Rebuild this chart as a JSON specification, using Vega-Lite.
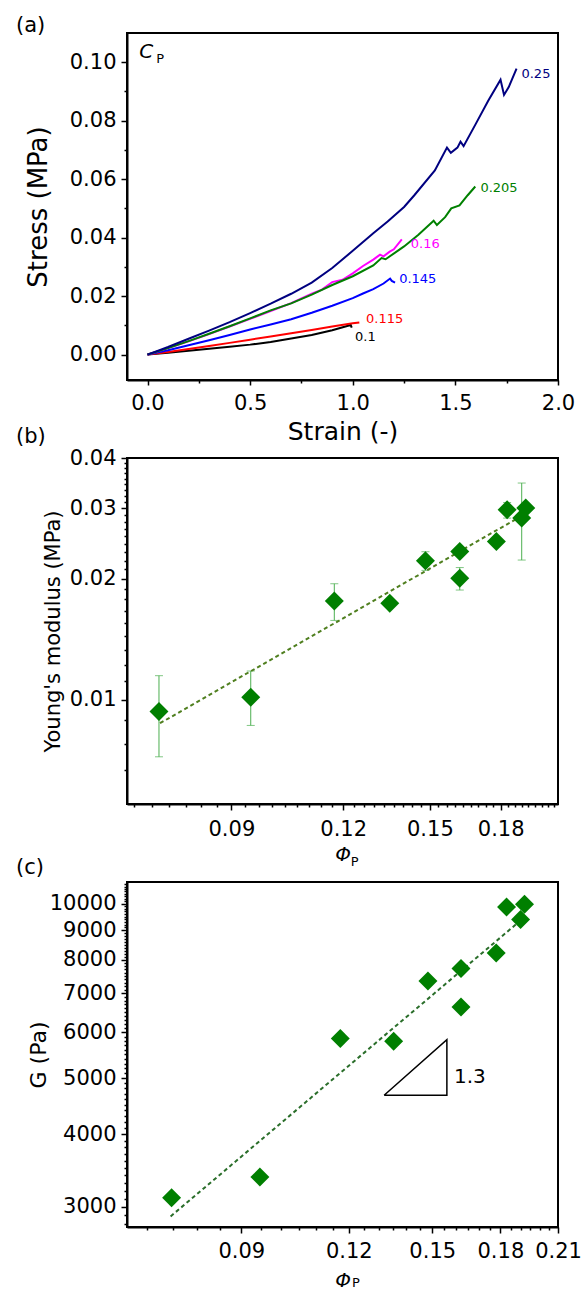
{
  "$schema": "https://vega.github.io/schema/vega-lite/v6.json",
  "padding": {"left": 15, "top": 14, "right": 0, "bottom": 0},
  "bounds": "flush",
  "spacing": 78,
  "config": {
    "font": "DejaVu Sans",
    "view": {"stroke": "black", "strokeWidth": 2},
    "axis": {"grid": false, "domainColor": "black", "domainWidth": 2, "tickColor": "black", "tickWidth": 1.5, "labelColor": "black", "titleColor": "black", "labelFontSize": 21, "labelFont": "DejaVu Sans", "titleFont": "DejaVu Sans", "titleFontWeight": "normal", "labelPadding": 5, "labelFlush": false, "labelOverlap": false},
    "title": {"font": "DejaVu Sans", "fontSize": 21, "fontWeight": "normal", "anchor": "start", "frame": "group", "baseline": "alphabetic", "color": "black"}
  },
  "datasets": {
    "curves": [
      {"cp": "0.1", "strain": 0, "stress": 0}, {"cp": "0.1", "strain": 0.1, "stress": 0.0006}, {"cp": "0.1", "strain": 0.2, "stress": 0.0013}, {"cp": "0.1", "strain": 0.3, "stress": 0.002}, {"cp": "0.1", "strain": 0.4, "stress": 0.0027}, {"cp": "0.1", "strain": 0.5, "stress": 0.0034}, {"cp": "0.1", "strain": 0.6, "stress": 0.0043}, {"cp": "0.1", "strain": 0.7, "stress": 0.0055}, {"cp": "0.1", "strain": 0.8, "stress": 0.0067}, {"cp": "0.1", "strain": 0.9, "stress": 0.0083}, {"cp": "0.1", "strain": 0.99, "stress": 0.0101}, {"cp": "0.1", "strain": 0.995, "stress": 0.0092},
      {"cp": "0.115", "strain": 0, "stress": 0}, {"cp": "0.115", "strain": 0.1, "stress": 0.0009}, {"cp": "0.115", "strain": 0.2, "stress": 0.0019}, {"cp": "0.115", "strain": 0.3, "stress": 0.0029}, {"cp": "0.115", "strain": 0.4, "stress": 0.004}, {"cp": "0.115", "strain": 0.5, "stress": 0.0051}, {"cp": "0.115", "strain": 0.6, "stress": 0.0062}, {"cp": "0.115", "strain": 0.7, "stress": 0.0073}, {"cp": "0.115", "strain": 0.8, "stress": 0.0084}, {"cp": "0.115", "strain": 0.9, "stress": 0.0096}, {"cp": "0.115", "strain": 1.0, "stress": 0.0107}, {"cp": "0.115", "strain": 1.032, "stress": 0.011},
      {"cp": "0.145", "strain": 0, "stress": 0}, {"cp": "0.145", "strain": 0.1, "stress": 0.0015}, {"cp": "0.145", "strain": 0.2, "stress": 0.0032}, {"cp": "0.145", "strain": 0.3, "stress": 0.0049}, {"cp": "0.145", "strain": 0.4, "stress": 0.0067}, {"cp": "0.145", "strain": 0.5, "stress": 0.0086}, {"cp": "0.145", "strain": 0.6, "stress": 0.0103}, {"cp": "0.145", "strain": 0.7, "stress": 0.0121}, {"cp": "0.145", "strain": 0.8, "stress": 0.0143}, {"cp": "0.145", "strain": 0.9, "stress": 0.0167}, {"cp": "0.145", "strain": 1.0, "stress": 0.0193}, {"cp": "0.145", "strain": 1.05, "stress": 0.0209}, {"cp": "0.145", "strain": 1.1, "stress": 0.0224}, {"cp": "0.145", "strain": 1.15, "stress": 0.0243}, {"cp": "0.145", "strain": 1.182, "stress": 0.026}, {"cp": "0.145", "strain": 1.19, "stress": 0.0252}, {"cp": "0.145", "strain": 1.206, "stress": 0.0246},
      {"cp": "0.16", "strain": 0, "stress": 0}, {"cp": "0.16", "strain": 0.1, "stress": 0.0022}, {"cp": "0.16", "strain": 0.2, "stress": 0.0045}, {"cp": "0.16", "strain": 0.3, "stress": 0.007}, {"cp": "0.16", "strain": 0.4, "stress": 0.0096}, {"cp": "0.16", "strain": 0.5, "stress": 0.0122}, {"cp": "0.16", "strain": 0.6, "stress": 0.0149}, {"cp": "0.16", "strain": 0.7, "stress": 0.0176}, {"cp": "0.16", "strain": 0.8, "stress": 0.0208}, {"cp": "0.16", "strain": 0.85, "stress": 0.0222}, {"cp": "0.16", "strain": 0.9, "stress": 0.0248}, {"cp": "0.16", "strain": 0.95, "stress": 0.0256}, {"cp": "0.16", "strain": 1.0, "stress": 0.0278}, {"cp": "0.16", "strain": 1.05, "stress": 0.0303}, {"cp": "0.16", "strain": 1.1, "stress": 0.0325}, {"cp": "0.16", "strain": 1.133, "stress": 0.0342}, {"cp": "0.16", "strain": 1.15, "stress": 0.0336}, {"cp": "0.16", "strain": 1.18, "stress": 0.0352}, {"cp": "0.16", "strain": 1.2, "stress": 0.036}, {"cp": "0.16", "strain": 1.239, "stress": 0.0394},
      {"cp": "0.205", "strain": 0, "stress": 0}, {"cp": "0.205", "strain": 0.1, "stress": 0.0022}, {"cp": "0.205", "strain": 0.2, "stress": 0.0046}, {"cp": "0.205", "strain": 0.3, "stress": 0.0071}, {"cp": "0.205", "strain": 0.4, "stress": 0.0097}, {"cp": "0.205", "strain": 0.5, "stress": 0.0124}, {"cp": "0.205", "strain": 0.6, "stress": 0.0151}, {"cp": "0.205", "strain": 0.7, "stress": 0.0175}, {"cp": "0.205", "strain": 0.8, "stress": 0.0205}, {"cp": "0.205", "strain": 0.9, "stress": 0.0238}, {"cp": "0.205", "strain": 1.0, "stress": 0.0268}, {"cp": "0.205", "strain": 1.1, "stress": 0.0305}, {"cp": "0.205", "strain": 1.14, "stress": 0.033}, {"cp": "0.205", "strain": 1.16, "stress": 0.0326}, {"cp": "0.205", "strain": 1.25, "stress": 0.037}, {"cp": "0.205", "strain": 1.32, "stress": 0.041}, {"cp": "0.205", "strain": 1.394, "stress": 0.0458}, {"cp": "0.205", "strain": 1.41, "stress": 0.0443}, {"cp": "0.205", "strain": 1.45, "stress": 0.047}, {"cp": "0.205", "strain": 1.48, "stress": 0.05}, {"cp": "0.205", "strain": 1.52, "stress": 0.051}, {"cp": "0.205", "strain": 1.56, "stress": 0.0545}, {"cp": "0.205", "strain": 1.597, "stress": 0.0575},
      {"cp": "0.25", "strain": 0, "stress": 0}, {"cp": "0.25", "strain": 0.1, "stress": 0.0026}, {"cp": "0.25", "strain": 0.2, "stress": 0.0054}, {"cp": "0.25", "strain": 0.3, "stress": 0.0082}, {"cp": "0.25", "strain": 0.4, "stress": 0.0111}, {"cp": "0.25", "strain": 0.5, "stress": 0.0142}, {"cp": "0.25", "strain": 0.6, "stress": 0.0174}, {"cp": "0.25", "strain": 0.7, "stress": 0.0208}, {"cp": "0.25", "strain": 0.8, "stress": 0.0246}, {"cp": "0.25", "strain": 0.9, "stress": 0.0296}, {"cp": "0.25", "strain": 1.0, "stress": 0.0355}, {"cp": "0.25", "strain": 1.1, "stress": 0.0415}, {"cp": "0.25", "strain": 1.17, "stress": 0.0455}, {"cp": "0.25", "strain": 1.25, "stress": 0.0505}, {"cp": "0.25", "strain": 1.3, "stress": 0.0545}, {"cp": "0.25", "strain": 1.4, "stress": 0.063}, {"cp": "0.25", "strain": 1.459, "stress": 0.0708}, {"cp": "0.25", "strain": 1.478, "stress": 0.069}, {"cp": "0.25", "strain": 1.51, "stress": 0.0708}, {"cp": "0.25", "strain": 1.525, "stress": 0.0728}, {"cp": "0.25", "strain": 1.54, "stress": 0.0713}, {"cp": "0.25", "strain": 1.6, "stress": 0.079}, {"cp": "0.25", "strain": 1.66, "stress": 0.0868}, {"cp": "0.25", "strain": 1.72, "stress": 0.094}, {"cp": "0.25", "strain": 1.737, "stress": 0.0888}, {"cp": "0.25", "strain": 1.76, "stress": 0.0915}, {"cp": "0.25", "strain": 1.798, "stress": 0.0978}
    ],
    "curveLabels": [
      {"cp": "0.25", "strain": 1.822, "stress": 0.0959, "t": "0.25"},
      {"cp": "0.205", "strain": 1.622, "stress": 0.0569, "t": "0.205"},
      {"cp": "0.16", "strain": 1.283, "stress": 0.0378, "t": "0.16"},
      {"cp": "0.145", "strain": 1.226, "stress": 0.0257, "t": "0.145"},
      {"cp": "0.115", "strain": 1.065, "stress": 0.0121, "t": "0.115"},
      {"cp": "0.1", "strain": 1.011, "stress": 0.006, "t": "0.1"}
    ],
    "ptsB": [
      {"phi": 0.0747, "E": 0.00935}, {"phi": 0.0946, "E": 0.01015}, {"phi": 0.1173, "E": 0.01761}, {"phi": 0.1353, "E": 0.01738}, {"phi": 0.1483, "E": 0.0222}, {"phi": 0.162, "E": 0.0234}, {"phi": 0.162, "E": 0.02006}, {"phi": 0.178, "E": 0.02477}, {"phi": 0.183, "E": 0.02973}, {"phi": 0.19, "E": 0.02834}, {"phi": 0.192, "E": 0.03002}
    ],
    "errB": [
      {"phi": 0.0747, "E": 0.00721, "E2": 0.01148}, {"phi": 0.0946, "E": 0.00863, "E2": 0.01179}, {"phi": 0.1173, "E": 0.01576, "E2": 0.01945}, {"phi": 0.1483, "E": 0.021, "E2": 0.02337}, {"phi": 0.162, "E": 0.01876, "E2": 0.02134}, {"phi": 0.183, "E": 0.02834, "E2": 0.03099}, {"phi": 0.19, "E": 0.02228, "E2": 0.03465}
    ],
    "capsB": [
      {"phi": 0.0747, "E": 0.00721}, {"phi": 0.0747, "E": 0.01148}, {"phi": 0.0946, "E": 0.00863}, {"phi": 0.0946, "E": 0.01179}, {"phi": 0.1173, "E": 0.01576}, {"phi": 0.1173, "E": 0.01945}, {"phi": 0.1483, "E": 0.021}, {"phi": 0.1483, "E": 0.02337}, {"phi": 0.162, "E": 0.01876}, {"phi": 0.162, "E": 0.02134}, {"phi": 0.183, "E": 0.02834}, {"phi": 0.183, "E": 0.03099}, {"phi": 0.19, "E": 0.02228}, {"phi": 0.19, "E": 0.03465}
    ],
    "fitB": [{"phi": 0.0749, "E": 0.00874}, {"phi": 0.1924, "E": 0.02917}],
    "ptsC": [
      {"phi": 0.0747, "G": 3112}, {"phi": 0.0946, "G": 3378}, {"phi": 0.1173, "G": 5852}, {"phi": 0.1353, "G": 5789}, {"phi": 0.1483, "G": 7357}, {"phi": 0.162, "G": 7726}, {"phi": 0.162, "G": 6633}, {"phi": 0.178, "G": 8220}, {"phi": 0.183, "G": 9865}, {"phi": 0.19, "G": 9384}, {"phi": 0.192, "G": 9972}
    ],
    "fitC": [{"phi": 0.0745, "G": 2889}, {"phi": 0.1921, "G": 9482}],
    "triC": [{"phi": 0.1319, "G": 4672, "o": 0}, {"phi": 0.156, "G": 4672, "o": 1}, {"phi": 0.156, "G": 5828, "o": 2}, {"phi": 0.1319, "G": 4672, "o": 3}]
  },
  "vconcat": [
    {
      "width": 431, "height": 347,
      "title": {"text": "(a)", "dx": -111, "offset": -3},
      "encoding": {
        "x": {"field": "strain", "type": "quantitative", "scale": {"domain": [-0.1, 2.0], "nice": false, "zero": false},
          "axis": {"values": [0, 0.25, 0.5, 0.75, 1, 1.25, 1.5, 1.75, 2],
            "labelExpr": "abs(datum.value*2-round(datum.value*2))<0.001 ? format(datum.value,'.1f') : ''",
            "tickSize": {"condition": {"test": "abs(datum.value*2-round(datum.value*2))<0.001", "value": 5}, "value": 3},
            "labelPadding": 7, "title": "Strain (-)", "titleFontSize": 25, "titlePadding": 6}},
        "y": {"field": "stress", "type": "quantitative", "scale": {"domain": [-0.0087, 0.11], "nice": false, "zero": false},
          "axis": {"values": [0, 0.01, 0.02, 0.03, 0.04, 0.05, 0.06, 0.07, 0.08, 0.09, 0.1],
            "labelExpr": "abs(datum.value*50-round(datum.value*50))<0.001 ? format(datum.value,'.2f') : ''",
            "tickSize": {"condition": {"test": "abs(datum.value*50-round(datum.value*50))<0.001", "value": 6}, "value": 3},
            "title": "Stress (MPa)", "titleFontSize": 26, "titlePadding": 18}}
      },
      "layer": [
        {"data": {"name": "curves"}, "mark": {"type": "line", "strokeWidth": 2},
          "encoding": {"color": {"field": "cp", "type": "nominal", "scale": {"domain": ["0.1", "0.115", "0.145", "0.16", "0.205", "0.25"], "range": ["#000000", "#ff0000", "#0000ff", "#ff00ff", "#008000", "#000080"]}, "legend": null}}},
        {"data": {"name": "curveLabels"}, "mark": {"type": "text", "align": "left", "baseline": "middle", "fontSize": 13},
          "encoding": {"text": {"field": "t"}, "color": {"field": "cp", "type": "nominal", "scale": {"domain": ["0.1", "0.115", "0.145", "0.16", "0.205", "0.25"], "range": ["#000000", "#ff0000", "#0000ff", "#ff00ff", "#008000", "#000080"]}, "legend": null}}},
        {"data": {"values": [{"strain": -0.04, "stress": 0.1034, "t": "C"}]}, "mark": {"type": "text", "align": "left", "baseline": "middle", "fontSize": 20, "fontStyle": "italic", "color": "black"},
          "encoding": {"text": {"field": "t"}}},
        {"data": {"values": [{"strain": 0.043, "stress": 0.101, "t": "P"}]}, "mark": {"type": "text", "align": "left", "baseline": "middle", "fontSize": 13, "color": "black"},
          "encoding": {"text": {"field": "t"}}}
      ]
    },
    {
      "width": 431, "height": 346,
      "title": {"text": "(b)", "dx": -111, "offset": 0},
      "encoding": {
        "x": {"field": "phi", "type": "quantitative", "scale": {"type": "log", "domain": [0.0688, 0.2086], "nice": false},
          "axis": {"values": [0.07, 0.07333, 0.07667, 0.08, 0.08333, 0.08667, 0.09, 0.09333, 0.09667, 0.1, 0.10333, 0.10667, 0.11, 0.11333, 0.11667, 0.12, 0.12333, 0.12667, 0.13, 0.13333, 0.13667, 0.14, 0.14333, 0.14667, 0.15, 0.15333, 0.15667, 0.16, 0.16333, 0.16667, 0.17, 0.17333, 0.17667, 0.18, 0.18333, 0.18667, 0.19, 0.19333, 0.19667, 0.2, 0.20333, 0.20667],
            "labelExpr": "abs(datum.value/0.03-round(datum.value/0.03))<0.001 ? format(datum.value,'.2f') : ''",
            "tickSize": {"condition": {"test": "abs(datum.value/0.03-round(datum.value/0.03))<0.001", "value": 6}, "value": 3},
            "labelPadding": 8, "title": "Φ", "titleFontStyle": "italic", "titleFontSize": 20, "titlePadding": 5}},
        "y": {"field": "E", "type": "quantitative", "scale": {"type": "log", "domain": [0.0055, 0.04], "nice": false},
          "axis": {"values": [0.00667, 0.00778, 0.00889, 0.01, 0.01111, 0.01222, 0.01333, 0.01444, 0.01556, 0.01667, 0.01778, 0.01889, 0.02, 0.02111, 0.02222, 0.02333, 0.02444, 0.02556, 0.02667, 0.02778, 0.02889, 0.03, 0.03111, 0.03222, 0.03333, 0.03444, 0.03556, 0.03667, 0.03778, 0.03889, 0.04],
            "labelExpr": "abs(datum.value*100-round(datum.value*100))<0.001 ? format(datum.value,'.2f') : ''",
            "tickSize": {"condition": {"test": "abs(datum.value*100-round(datum.value*100))<0.001", "value": 6}, "value": 3},
            "title": "Young's modulus (MPa)", "titleFontSize": 21, "titlePadding": 6}}
      },
      "layer": [
        {"data": {"name": "errB"}, "mark": {"type": "rule", "color": "#4caf50", "strokeWidth": 1}, "encoding": {"y2": {"field": "E2"}}},
        {"data": {"name": "capsB"}, "mark": {"type": "tick", "orient": "horizontal", "size": 8, "thickness": 1, "color": "#4caf50"}, "encoding": {}},
        {"data": {"name": "fitB"}, "mark": {"type": "line", "color": "#4f7f1f", "strokeWidth": 2, "strokeDash": [4, 3]}, "encoding": {}},
        {"data": {"name": "ptsB"}, "mark": {"type": "point", "shape": "diamond", "filled": true, "size": 360, "color": "#007f00", "opacity": 1}, "encoding": {}},
        {"data": {"values": [{"phi": 0.1224, "E": 0.003942, "t": "P"}]}, "mark": {"type": "text", "align": "left", "baseline": "middle", "fontSize": 13, "color": "black"}, "encoding": {"text": {"field": "t"}}}
      ]
    },
    {
      "width": 431, "height": 345,
      "title": {"text": "(c)", "dx": -111, "offset": -5},
      "encoding": {
        "x": {"field": "phi", "type": "quantitative", "scale": {"type": "log", "domain": [0.0663, 0.21], "nice": false},
          "axis": {"values": [0.07, 0.075, 0.08, 0.085, 0.09, 0.095, 0.1, 0.105, 0.11, 0.115, 0.12, 0.125, 0.13, 0.135, 0.14, 0.145, 0.15, 0.155, 0.16, 0.165, 0.17, 0.175, 0.18, 0.185, 0.19, 0.195, 0.2, 0.205, 0.21],
            "labelExpr": "abs(datum.value/0.03-round(datum.value/0.03))<0.001 ? format(datum.value,'.2f') : ''",
            "tickSize": {"condition": {"test": "abs(datum.value/0.03-round(datum.value/0.03))<0.001", "value": 6}, "value": 3},
            "labelPadding": 7, "title": "Φ", "titleFontStyle": "italic", "titleFontSize": 20, "titlePadding": 9}},
        "y": {"field": "G", "type": "quantitative", "scale": {"type": "log", "domain": [2770, 10895], "nice": false},
          "axis": {"values": [2800, 2900, 3000, 3100, 3200, 3300, 3400, 3500, 3600, 3700, 3800, 3900, 4000, 4100, 4200, 4300, 4400, 4500, 4600, 4700, 4800, 4900, 5000, 5100, 5200, 5300, 5400, 5500, 5600, 5700, 5800, 5900, 6000, 6100, 6200, 6300, 6400, 6500, 6600, 6700, 6800, 6900, 7000, 7100, 7200, 7300, 7400, 7500, 7600, 7700, 7800, 7900, 8000, 8100, 8200, 8300, 8400, 8500, 8600, 8700, 8800, 8900, 9000, 9100, 9200, 9300, 9400, 9500, 9600, 9700, 9800, 9900, 10000, 10100, 10200, 10300, 10400, 10500, 10600, 10700, 10800],
            "labelExpr": "datum.value % 1000 == 0 ? format(datum.value,'d') : ''",
            "tickSize": {"condition": {"test": "datum.value % 1000 == 0", "value": 6}, "value": 3},
            "title": "G (Pa)", "titleFontSize": 22, "titlePadding": -1}}
      },
      "layer": [
        {"data": {"name": "fitC"}, "mark": {"type": "line", "color": "#2a6e2a", "strokeWidth": 2, "strokeDash": [4, 3]}, "encoding": {}},
        {"data": {"name": "triC"}, "mark": {"type": "line", "color": "black", "strokeWidth": 1.5}, "encoding": {"order": {"field": "o"}}},
        {"data": {"values": [{"phi": 0.159, "G": 5023, "t": "1.3"}]}, "mark": {"type": "text", "align": "left", "baseline": "middle", "fontSize": 20, "color": "black"}, "encoding": {"text": {"field": "t"}}},
        {"data": {"name": "ptsC"}, "mark": {"type": "point", "shape": "diamond", "filled": true, "size": 360, "color": "#007f00", "opacity": 1}, "encoding": {}},
        {"data": {"values": [{"phi": 0.121, "G": 2215, "t": "P"}]}, "mark": {"type": "text", "align": "left", "baseline": "middle", "fontSize": 13, "color": "black"}, "encoding": {"text": {"field": "t"}}}
      ]
    }
  ]
}
